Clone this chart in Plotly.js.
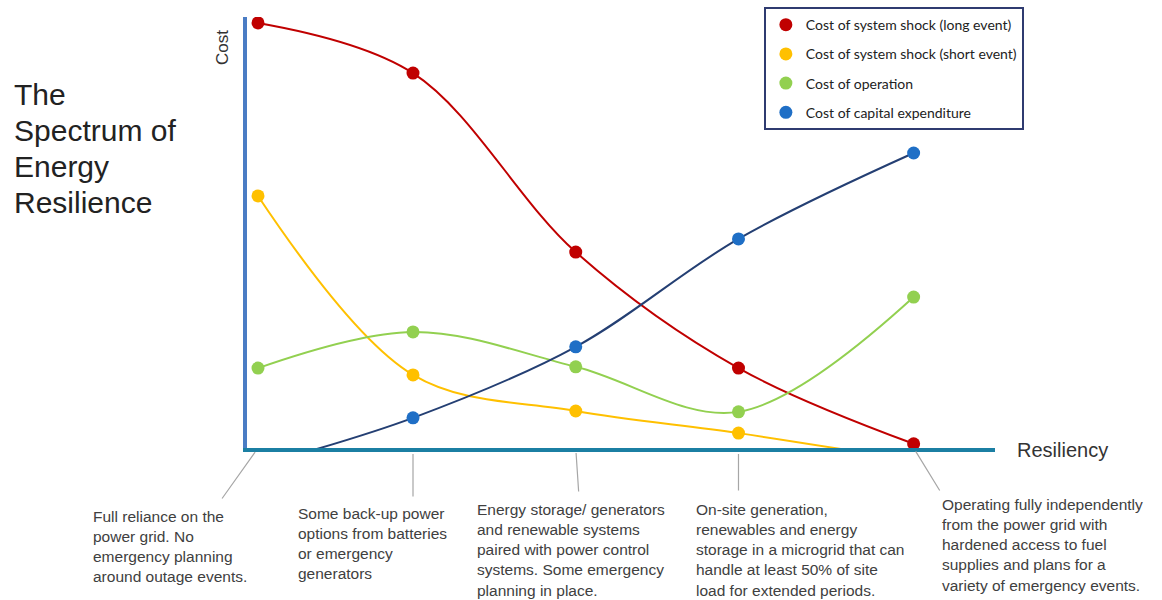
<!DOCTYPE html>
<html>
<head>
<meta charset="utf-8">
<script src="https://cdn.plot.ly/plotly-3.0.1.min.js"></script>
<style>html,body{margin:0;padding:0;background:#fff;}#chart{width:1162px;height:600px;}</style>
</head>
<body>
<div id="chart"></div>
<script>
// Resilience levels (position along the x axis)
const levels = [0, 1, 2.05, 3.1, 4.23];
const seriesNames = [
  'Cost of system shock (long event)',
  'Cost of system shock (short event)',
  'Cost of operation',
  'Cost of capital expenditure'
];
const longShock  = [100, 88.2, 46.1, 18.8, 1];
const shortShock = [59.3, 17.2, 8.7, 3.5, -3];
const operation  = [18.8, 27.3, 19.1, 8.5, 35.5];
const capex      = [-4.2, 7.1, 23.8, 49.2, 69.4];
const descriptions = [
  'Full reliance on the<br>power grid. No<br>emergency planning<br>around outage events.',
  'Some back-up power<br>options from batteries<br>or emergency<br>generators',
  'Energy storage/ generators<br>and renewable systems<br>paired with power control<br>systems. Some emergency<br>planning in place.',
  'On-site generation,<br>renewables and energy<br>storage in a microgrid that can<br>handle at least 50% of site<br>load for extended periods.',
  'Operating fully independently<br>from the power grid with<br>hardened access to fuel<br>supplies and plans for a<br>variety of emergency events.'
];
const titleLines = ['The', 'Spectrum of', 'Energy', 'Resilience'];
const yTitle = 'Cost';
const xTitle = 'Resiliency';

const series = [longShock, shortShock, operation, capex];
const lineColors = ['#c00000', '#ffc000', '#92d050', '#243f73'];
const markerColors = ['#c00000', '#ffc000', '#92d050', '#1f6fc6'];

const traces = [];
series.forEach((vals, i) => {
  traces.push({
    x: levels, y: vals, type: 'scatter', mode: 'lines',
    line: {shape: 'spline', smoothing: 1, color: lineColors[i], width: 2},
    showlegend: false, hoverinfo: 'skip'
  });
});
series.forEach((vals, i) => {
  traces.push({
    x: levels, y: vals, type: 'scatter', mode: 'markers',
    name: seriesNames[i], legendgroup: 'g' + i,
    marker: {color: markerColors[i], size: 13},
    cliponaxis: true
  });
});

const annotations = [];
// title block, one line each (tight line spacing as in the reference)
titleLines.forEach((t, i) => {
  annotations.push({
    text: t, xref: 'paper', yref: 'paper', x: -0.314, y: (448 - (95 + i * 35.7)) / 431,
    xanchor: 'left', yanchor: 'middle', align: 'left', showarrow: false,
    font: {family: 'Liberation Sans, Arial, sans-serif', size: 30, color: '#222'}
  });
});
annotations.push({
  text: yTitle, xref: 'paper', yref: 'paper', x: -0.033, y: 0.929,
  xanchor: 'center', yanchor: 'middle', textangle: -90, showarrow: false,
  font: {family: 'Liberation Sans, Arial, sans-serif', size: 17, color: '#333'}
});
annotations.push({
  text: xTitle, xref: 'paper', yref: 'paper', x: 1.027, y: -0.005,
  xanchor: 'left', yanchor: 'middle', showarrow: false,
  font: {family: 'Liberation Sans, Arial, sans-serif', size: 20, color: '#333'}
});
const descPos = [[-0.2085, -0.1346], [0.0655, -0.1276], [0.3048, -0.1183], [0.5976, -0.1183], [0.9264, -0.1067]];
descriptions.forEach((t, i) => {
  annotations.push({
    text: t, xref: 'paper', yref: 'paper', x: descPos[i][0], y: descPos[i][1],
    xanchor: 'left', yanchor: 'top', align: 'left', showarrow: false,
    font: {family: 'Liberation Sans, Arial, sans-serif', size: 15.5, color: '#404040'}
  });
});
// connector lines from each resilience level to its description
const connectors = [[-37, 52, 5], [0, 50, 6], [3, 45, 5], [0, 44, 6], [27, 44, 4]];
connectors.forEach((c, i) => {
  annotations.push({
    text: '', x: levels[i], y: 0, xref: 'x', yref: 'y',
    showarrow: true, arrowhead: 0, arrowwidth: 1.2, arrowcolor: '#a6a6a6',
    ax: c[0], ay: c[1], standoff: c[2]
  });
});

const layout = {
  width: 1162, height: 600,
  margin: {l: 247, r: 167, t: 17, b: 152, autoexpand: false},
  paper_bgcolor: '#ffffff', plot_bgcolor: '#ffffff',
  xaxis: {
    range: [-0.071, 4.755], showgrid: false, zeroline: false,
    showticklabels: false, ticks: '', showline: true,
    linecolor: '#1b7fa3', linewidth: 4, fixedrange: true
  },
  yaxis: {
    range: [0, 101.4], showgrid: false, zeroline: false,
    showticklabels: false, ticks: '', showline: true,
    linecolor: '#4a7cc4', linewidth: 4, fixedrange: true
  },
  legend: {
    x: 0.691, y: 1.023, xanchor: 'left', yanchor: 'top',
    bordercolor: '#2f3b70', borderwidth: 2, bgcolor: '#ffffff',
    traceorder: 'grouped', tracegroupgap: 8,
    font: {family: 'Lato, sans-serif', size: 14, color: '#222'}
  },
  showlegend: true,
  annotations: annotations,
  hovermode: false
};

Plotly.newPlot('chart', traces, layout, {displayModeBar: false, staticPlot: true});
</script>
</body>
</html>
